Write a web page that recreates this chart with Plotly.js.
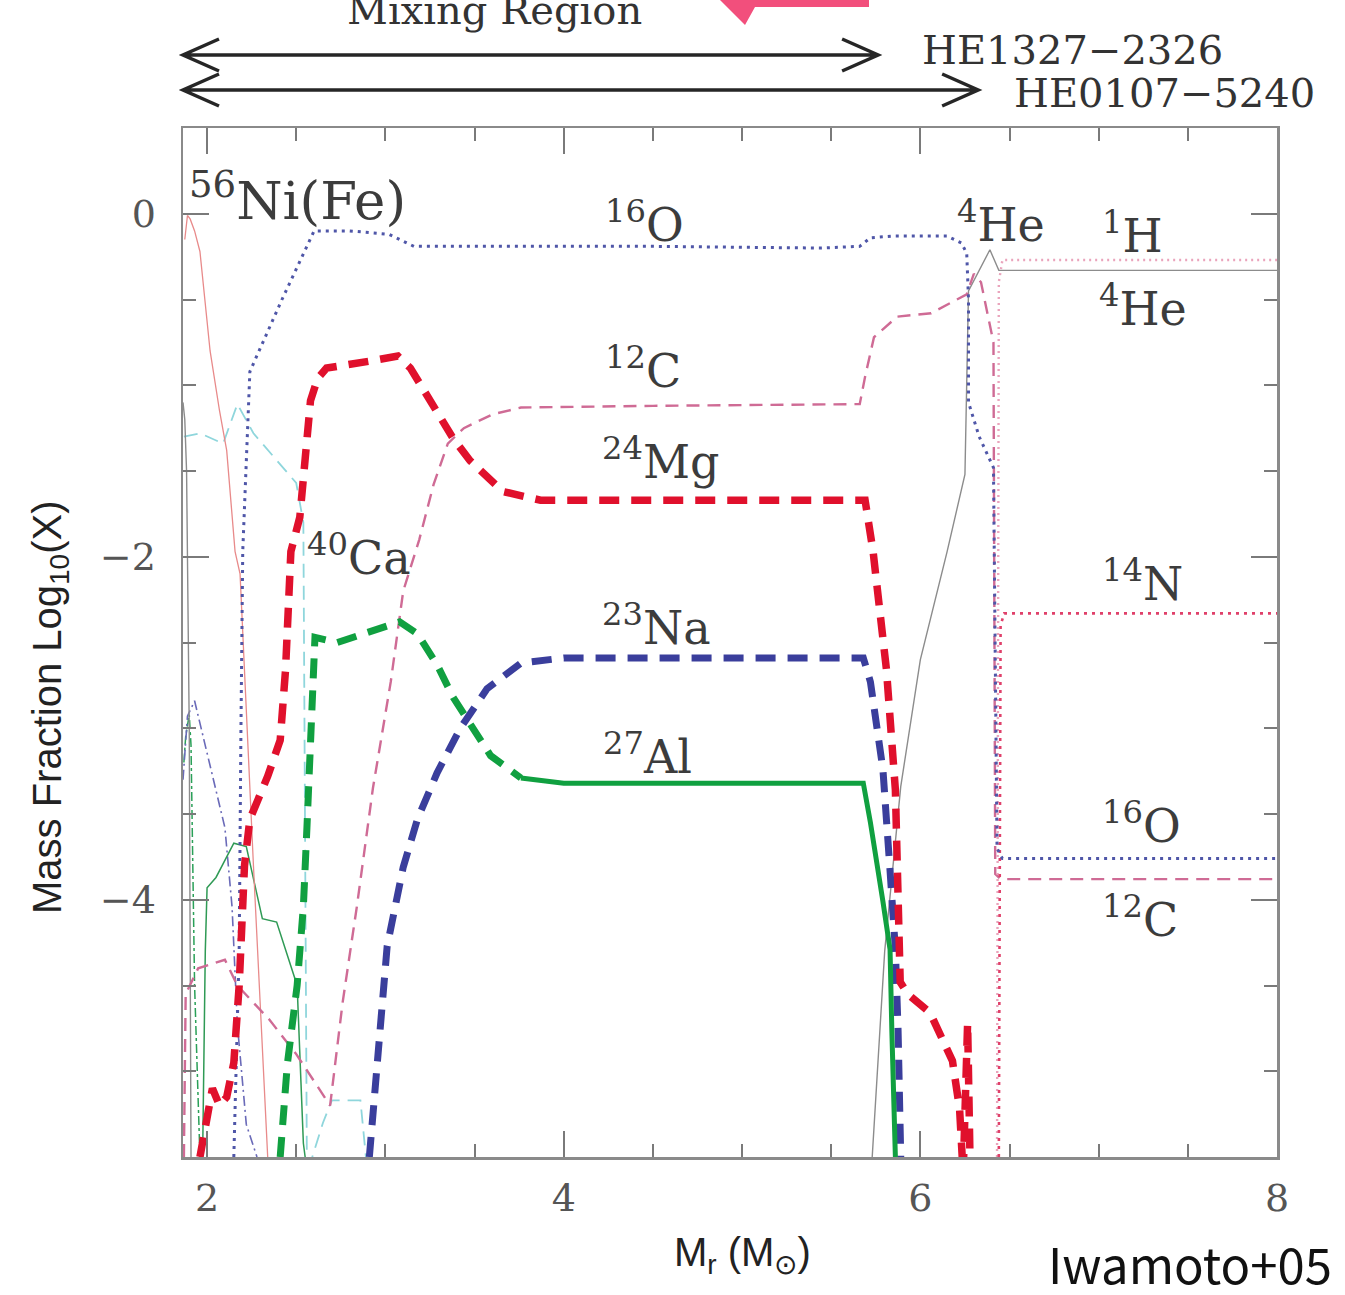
<!DOCTYPE html>
<html><head><meta charset="utf-8">
<script src="https://cdn.plot.ly/plotly-3.0.1.min.js"></script>
<style>html,body{margin:0;padding:0;background:#fff}</style>
</head><body>
<div id="chart" style="width:1345px;height:1295px"></div>
<script>
// ---------- data ----------
const o16_x = [2.15, 2.18, 2.19, 2.20, 2.24, 2.42, 2.60, 2.80, 3.02, 3.16, 3.60, 4.50, 5.44, 5.66, 5.72, 5.85, 6.15, 6.23, 6.26, 6.27, 6.27, 6.33, 6.41, 6.42, 6.43, 6.46, 8.00];
const o16_y = [-5.5, -4.3, -3.0, -1.97, -0.92, -0.5, -0.1, -0.1, -0.12, -0.19, -0.19, -0.19, -0.2, -0.19, -0.14, -0.13, -0.13, -0.17, -0.23, -0.5, -1.1, -1.3, -1.48, -2.5, -3.7, -3.76, -3.76];

const c12_x = [1.87, 1.88, 1.95, 2.10, 2.17, 2.35, 2.50, 2.69, 2.76, 2.84, 2.93, 3.03, 3.10, 3.19, 3.27, 3.35, 3.44, 3.60, 3.76, 4.50, 5.66, 5.69, 5.74, 5.87, 6.06, 6.26, 6.30, 6.34, 6.41, 6.42, 6.45, 8.00];
const c12_y = [-5.5, -4.55, -4.4, -4.35, -4.5, -4.7, -4.9, -5.2, -4.6, -4.04, -3.35, -2.73, -2.2, -1.9, -1.58, -1.34, -1.25, -1.17, -1.13, -1.12, -1.11, -0.95, -0.72, -0.6, -0.58, -0.47, -0.35, -0.4, -0.75, -3.85, -3.88, -3.88];

const mg24_x = [1.96, 2.00, 2.03, 2.07, 2.11, 2.15, 2.18, 2.21, 2.24, 2.34, 2.41, 2.44, 2.47, 2.52, 2.55, 2.58, 2.62, 2.67, 2.91, 3.07, 3.14, 3.25, 3.38, 3.475, 3.66, 3.87, 5.69, 5.735, 5.81, 5.86, 5.875, 5.887, 5.93, 6.055, 6.18, 6.22, 6.24, 6.265, 6.28];
const mg24_y = [-5.5, -5.25, -5.1, -5.2, -5.15, -4.95, -4.5, -3.8, -3.53, -3.28, -3.07, -2.66, -1.97, -1.77, -1.38, -1.09, -0.96, -0.9, -0.86, -0.83, -0.9, -1.09, -1.31, -1.44, -1.62, -1.67, -1.67, -1.97, -2.66, -3.36, -4.06, -4.48, -4.55, -4.66, -4.94, -5.22, -5.6, -4.72, -5.6];

const na23_x = [2.91, 2.95, 3.01, 3.10, 3.18, 3.29, 3.42, 3.57, 3.76, 4.00, 5.68, 5.72, 5.79, 5.83, 5.86, 5.875, 5.89];
const na23_y = [-5.5, -4.97, -4.27, -3.81, -3.53, -3.26, -3.0, -2.77, -2.62, -2.59, -2.59, -2.73, -3.24, -3.83, -4.29, -4.76, -5.5];

const al27_inner_x = [2.41, 2.45, 2.505, 2.54, 2.56, 2.58, 2.595, 2.605, 2.73, 2.82, 2.96, 3.08, 3.18, 3.29, 3.38, 3.475, 3.59, 3.76];
const al27_inner_y = [-5.5, -4.96, -4.5, -4.04, -3.58, -3.12, -2.66, -2.47, -2.5, -2.47, -2.42, -2.38, -2.45, -2.63, -2.82, -2.98, -3.16, -3.29];
const al27_outer_x = [3.76, 4.00, 5.68, 5.72, 5.79, 5.83, 5.84, 5.85, 5.86];
const al27_outer_y = [-3.29, -3.32, -3.32, -3.55, -4.01, -4.29, -4.76, -5.2, -5.5];

const ni56_x = [1.875, 1.89, 1.905, 1.93, 1.96, 2.017, 2.07, 2.11, 2.157, 2.185, 2.26, 2.34];
const ni56_y = [-0.15, -0.01, -0.03, -0.1, -0.22, -0.8, -1.15, -1.38, -1.97, -2.1, -3.8, -5.5];

const he4_x = [1.865, 1.875, 1.885, 1.90, 1.91, null, 5.73, 5.80, 5.89, 6.00, 6.15, 6.25, 6.27, 6.39, 6.44, 8.00];
const he4_y = [-1.1, -1.2, -1.5, -3.0, -5.5, null, -5.5, -4.3, -3.34, -2.6, -1.97, -1.52, -0.45, -0.21, -0.33, -0.33];

const h1_x = [6.43, 6.44, 6.46, 8.00];
const h1_y = [-5.5, -0.4, -0.27, -0.27];

const n14_x = [6.44, 6.45, 6.47, 8.00];
const n14_y = [-5.5, -2.4, -2.33, -2.33];

const ca40_x = [1.87, 1.96, 2.09, 2.17, 2.26, 2.50, 2.54, 2.55, 2.56, 2.65, 2.70, 2.86, 2.90];
const ca40_y = [-1.3, -1.28, -1.34, -1.11, -1.28, -1.57, -1.8, -3.5, -5.6, -5.3, -5.17, -5.17, -5.6];

const si28_x = [1.865, 1.89, 1.93, 2.03, 2.10, 2.14, 2.17, 2.22, 2.28];
const si28_y = [-3.3, -2.93, -2.84, -3.28, -3.58, -4.04, -4.73, -5.31, -5.5];

const s32_x = [1.975, 1.99, 2.00, 2.05, 2.15, 2.22, 2.31, 2.39, 2.505, 2.54, 2.55];
const s32_y = [-5.5, -4.3, -3.93, -3.87, -3.67, -3.69, -4.11, -4.13, -4.5, -5.42, -5.5];

const ar36_x = [1.87, 1.88, 1.90, 1.91, 1.93, 1.96];
const ar36_y = [-3.2, -3.05, -2.92, -3.1, -4.5, -5.5];

// mixing regions (arrows above the plot)
const mixStart = [1.865, 1.865];
const mixEnd = [5.763, 6.324];
const mixStar = ['HE1327\u22122326', 'HE0107\u22125240'];

// species labels
const labelText = ['<sup>56</sup>Ni(Fe)', '<sup>16</sup>O', '<sup>12</sup>C', '<sup>24</sup>Mg', '<sup>40</sup>Ca', '<sup>23</sup>Na', '<sup>27</sup>Al', '<sup>4</sup>He', '<sup>1</sup>H', '<sup>4</sup>He', '<sup>14</sup>N', '<sup>16</sup>O', '<sup>12</sup>C'];

// x tick values / y tick values
const xTicks = [2, 4, 6, 8];
const yTicks = [0, -2, -4];

// ---------- layout helpers ----------
const X_MIN = 1.865, X_MAX = 8.0, Y_MIN = -5.5, Y_MAX = 0.5;
const labelX = [1.888, 4.221, 4.221, 4.204, 2.55, 4.204, 4.21, 6.195, 7.008, 6.99, 7.008, 7.008, 7.008];
const labelY = [0.1, -0.047, -0.898, -1.43, -1.99, -2.40, -3.15, -0.05, -0.11, -0.54, -2.14, -3.55, -4.1];
const labelSize = [53, 46, 46, 46, 46, 46, 46, 46, 46, 46, 46, 46, 46];

function tr(x, y, color, width, dash) {
  return {type: 'scatter', mode: 'lines', x: x, y: y, connectgaps: false,
          line: {color: color, width: width, dash: dash, shape: 'linear'},
          hoverinfo: 'skip', showlegend: false};
}

const traces = [
  tr(ar36_x, ar36_y, '#2aa058', 1.5, 'dashdot'),
  tr(si28_x, si28_y, '#6a6ab8', 1.6, '10px,4px,2px,4px'),
  tr(s32_x, s32_y, '#2f9a55', 1.5, 'solid'),
  tr(ca40_x, ca40_y, '#8fd6dc', 1.8, '14px,8px'),
  tr(ni56_x, ni56_y, '#e88a8a', 1.3, 'solid'),
  tr(he4_x, he4_y, '#8c8c8c', 1.4, 'solid'),
  tr(c12_x, c12_y, '#cf6b95', 2.4, '13px,8px'),
  tr(h1_x, h1_y, '#eaa4bc', 2.4, '2px,4px'),
  tr(n14_x, n14_y, '#e0406a', 2.6, '3px,5px'),
  tr(o16_x, o16_y, '#4f56a8', 3, '3px,5px'),
  tr(na23_x, na23_y, '#3a3e9c', 7, '20px,12px'),
  tr(al27_inner_x, al27_inner_y, '#10a040', 7, '20px,12px'),
  tr(al27_outer_x, al27_outer_y, '#10a040', 5, 'solid'),
  tr(mg24_x, mg24_y, '#e0102c', 7.5, '20px,12px')
];

function px2paperY(py) { return (1157 - py) / 1029; }
function dataToPaperX(x) { return (x - X_MIN) / (X_MAX - X_MIN); }

const shapes = [];
const arrowY = [px2paperY(55), px2paperY(90)];
const dxArm = 36 / 1094, dyArm = 16 / 1029;
for (let i = 0; i < mixEnd.length; i++) {
  const a = dataToPaperX(mixStart[i]), b = dataToPaperX(mixEnd[i]), y = arrowY[i];
  shapes.push({type: 'path', xref: 'paper', yref: 'paper',
    path: `M ${a + dxArm},${y + dyArm} L ${a},${y} L ${a + dxArm},${y - dyArm} M ${a},${y} L ${b},${y} M ${b - dxArm},${y + dyArm} L ${b},${y} L ${b - dxArm},${y - dyArm}`,
    line: {color: '#262626', width: 3.5}});
}
// pink pointer at the very top (partially cut)
function pp(px, py) { return `${(px - 183) / 1094},${px2paperY(py)}`; }
shapes.push({type: 'path', xref: 'paper', yref: 'paper',
  path: `M ${pp(716, -4)} L ${pp(869, -4)} L ${pp(869, 7)} L ${pp(755, 7)} L ${pp(745, 25)} Z`,
  fillcolor: '#f24f7c', line: {width: 0}});

const annotations = [];
for (let i = 0; i < labelText.length; i++) {
  annotations.push({text: labelText[i], x: labelX[i], y: labelY[i], xref: 'x', yref: 'y',
    xanchor: 'left', yanchor: 'middle', showarrow: false,
    font: {family: 'DejaVu Serif', size: labelSize[i], color: '#3c3c3c'}});
}
const starShift = [42, 34];
const starY = [px2paperY(50), px2paperY(93)];
for (let i = 0; i < mixStar.length; i++) {
  annotations.push({text: mixStar[i], x: dataToPaperX(mixEnd[i]), y: starY[i], xref: 'paper', yref: 'paper',
    xanchor: 'left', yanchor: 'middle', xshift: starShift[i], showarrow: false,
    font: {family: 'DejaVu Serif', size: 40, color: '#333'}});
}
annotations.push({text: 'Mixing Region', x: (494 - 183) / 1094, y: px2paperY(10), xref: 'paper', yref: 'paper',
  xanchor: 'center', yanchor: 'middle', showarrow: false,
  font: {family: 'DejaVu Serif', size: 40, color: '#333'}});
annotations.push({text: 'Mass Fraction Log<sub>10</sub>(X)', x: (50 - 183) / 1094, y: px2paperY(707),
  xref: 'paper', yref: 'paper', textangle: -90, xanchor: 'center', yanchor: 'middle', showarrow: false,
  font: {family: 'Liberation Sans', size: 40, color: '#222'}});
annotations.push({text: 'M<sub>r</sub> (M<sub>\u2299</sub>)', x: (742 - 183) / 1094, y: px2paperY(1255),
  xref: 'paper', yref: 'paper', xanchor: 'center', yanchor: 'middle', showarrow: false,
  font: {family: 'Liberation Sans', size: 40, color: '#222'}});
annotations.push({text: 'Iwamoto+05', x: (1334 - 183) / 1094, y: px2paperY(1262),
  xref: 'paper', yref: 'paper', xanchor: 'right', yanchor: 'middle', showarrow: false,
  font: {family: 'Noto Sans CJK JP', size: 49, color: '#111'}});

const axisCommon = {
  showgrid: false, zeroline: false, showline: true, linecolor: '#8a8a8a', linewidth: 2.5,
  mirror: 'ticks', ticks: 'inside', ticklen: 26, tickwidth: 2, tickcolor: '#7a7a7a',
  tickfont: {family: 'DejaVu Serif', size: 38, color: '#555'}
};

const layout = {
  width: 1345, height: 1295,
  margin: {l: 183, r: 68, t: 128, b: 138, pad: 0},
  paper_bgcolor: '#fff', plot_bgcolor: '#fff', showlegend: false,
  xaxis: Object.assign({}, axisCommon, {range: [X_MIN, X_MAX], tickvals: xTicks, ticktext: xTicks.map(String),
    ticklabelstandoff: 6,
    minor: {dtick: 0.5, tick0: 0, ticks: 'inside', ticklen: 13, tickwidth: 2, tickcolor: '#7a7a7a'}}),
  yaxis: Object.assign({}, axisCommon, {range: [Y_MIN, Y_MAX], tickvals: yTicks,
    ticklabelstandoff: 17,
    minor: {dtick: 0.5, tick0: 0, ticks: 'inside', ticklen: 13, tickwidth: 2, tickcolor: '#7a7a7a'}}),
  shapes: shapes, annotations: annotations
};

Plotly.newPlot('chart', traces, layout, {staticPlot: true, displayModeBar: false});
</script>
</body></html>
